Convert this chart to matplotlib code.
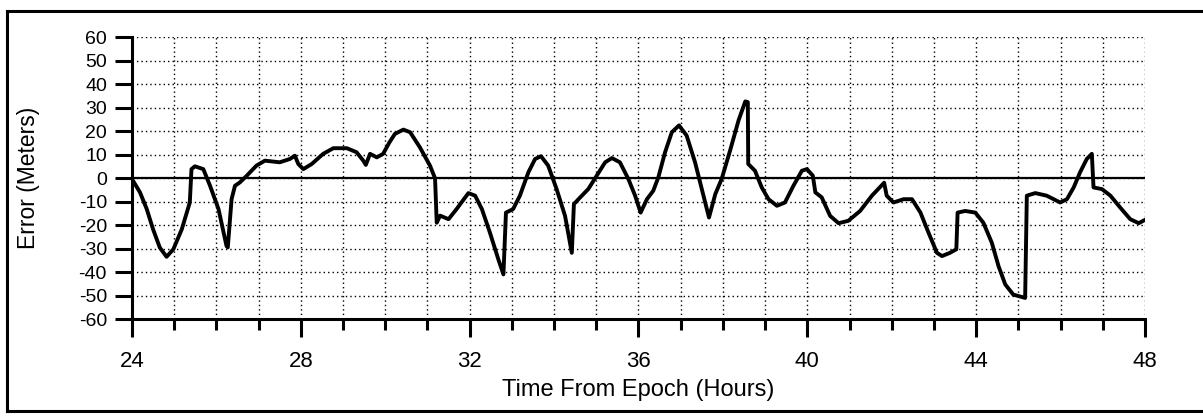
import matplotlib.pyplot as plt
from matplotlib.lines import Line2D
from matplotlib.ticker import MultipleLocator

plt.rcParams['font.family'] = ['Liberation Sans', 'DejaVu Sans']

# error trace (hours from epoch, metres)
hours = [24.0, 24.19, 24.35, 24.5, 24.66, 24.82, 24.98, 25.18, 25.37, 25.41, 25.49, 25.69,
         25.85, 26.05, 26.24, 26.27, 26.36, 26.44, 26.56, 26.72, 26.95, 27.15, 27.5, 27.74,
         27.86, 27.94, 28.06, 28.26, 28.53, 28.77, 29.09, 29.32, 29.48, 29.54, 29.64, 29.8,
         29.95, 30.1, 30.23, 30.43, 30.59, 30.82, 31.06, 31.18, 31.22, 31.3, 31.5, 31.69,
         31.97, 32.13, 32.29, 32.48, 32.68, 32.8, 32.86, 33.03, 33.19, 33.39, 33.55, 33.69,
         33.86, 34.06, 34.26, 34.42, 34.47, 34.62, 34.81, 35.01, 35.21, 35.37, 35.56, 35.76,
         35.92, 36.05, 36.2, 36.35, 36.47, 36.63, 36.79, 36.96, 37.14, 37.34, 37.5, 37.67,
         37.82, 37.97, 38.17, 38.37, 38.53, 38.59, 38.6, 38.76, 38.92, 39.08, 39.28, 39.47,
         39.67, 39.87, 39.99, 40.13, 40.19, 40.34, 40.54, 40.74, 40.97, 41.25, 41.53, 41.82,
         41.88, 42.04, 42.28, 42.48, 42.68, 42.87, 43.07, 43.19, 43.38, 43.53, 43.56, 43.74,
         43.98, 44.17, 44.37, 44.53, 44.69, 44.88, 45.16, 45.2, 45.4, 45.67, 45.99, 46.15,
         46.31, 46.46, 46.62, 46.74, 46.78, 46.98, 47.18, 47.41, 47.65, 47.85, 48.0]
error_m = [-0.4, -6.1, -13.2, -21.8, -29.6, -33.5, -30.3, -21.8, -10.4, 3.8, 5, 3.8,
           -3.3, -13.2, -28.9, -29.5, -9, -3.3, -1.8, 1, 5.3, 7.4, 6.7, 8.1,
           9.5, 6, 3.8, 6, 10.3, 12.7, 12.7, 11, 7.4, 5.6, 10.3, 8.8,
           10.3, 15.2, 18.8, 20.6, 19.5, 13.1, 5.3, -0.1, -19, -16, -17.5, -13.2,
           -6.4, -7.5, -13.2, -23.2, -34.6, -41, -14.7, -13.2, -7.5, 2.4, 8.1, 9.3,
           5.3, -4.7, -16.1, -31.8, -11.1, -8.2, -4.7, 1, 6.7, 8.5, 6.7, -0.4,
           -7.5, -14.7, -9, -5.4, 0.3, 11, 19.5, 22.4, 18.1, 6.7, -4.7, -16.8,
           -6.8, -0.4, 11.7, 24.5, 32.6, 32.3, 6, 3.1, -4, -9, -11.8, -10.4,
           -3.3, 3.1, 3.8, 1, -6.1, -8.2, -16.1, -19.2, -18.2, -14, -7.5, -2,
           -7.5, -10.4, -9, -9, -14.7, -23.2, -31.8, -33.2, -31.8, -30.3, -14.7, -14,
           -14.7, -19, -27.5, -37.5, -45.3, -49.6, -51, -7.5, -6.4, -7.5, -10.4, -9,
           -4, 2.4, 8.1, 10.3, -4, -4.7, -7.5, -12.5, -17.5, -19.2, -17.8]

y_ticks = list(range(-60, 61, 10))
x_ticks = [24, 28, 32, 36, 40, 44, 48]

fig = plt.figure(figsize=(12.03, 4.16), dpi=100)
ax = fig.add_axes([0.1097, 0.233, 0.8421, 0.678])

ax.plot(hours, error_m, color='black', linewidth=2.8, solid_joinstyle='round')
ax.axhline(0, color='black', linewidth=1.6)

ax.set_xlim(24, 48)
ax.set_ylim(-60, 60)
ax.set_xticks(x_ticks)
ax.set_xticklabels([str(t) for t in x_ticks])
ax.xaxis.set_minor_locator(MultipleLocator(1))
ax.set_yticks(y_ticks)
ax.set_yticklabels([str(t) for t in y_ticks])

ax.grid(True, which='both', color='black', linestyle=(0, (1, 2.2)), linewidth=1.0)
ax.tick_params(axis='x', which='major', length=13, width=2.2, direction='out', pad=10, labelsize=16)
ax.tick_params(axis='x', which='minor', length=8, width=2.2, direction='out')
ax.tick_params(axis='y', which='major', length=12, width=2.2, direction='out', pad=6, labelsize=14)

for s in ['top', 'right']:
    ax.spines[s].set_visible(False)
for s in ['left', 'bottom']:
    ax.spines[s].set_linewidth(2.2)

ax.set_xlabel('Time From Epoch (Hours)', fontsize=17, labelpad=5)
ax.set_ylabel('Error (Meters)', fontsize=16.5, labelpad=28)

# page frame around the figure (no right edge)
W, H = 1203, 416
fig.add_artist(Line2D([7 / W, 1.0], [1 - 11 / H, 1 - 11 / H], color='black', linewidth=2.2))
fig.add_artist(Line2D([7 / W, 1.0], [1 - 411 / H, 1 - 411 / H], color='black', linewidth=2.2))
fig.add_artist(Line2D([7 / W, 7 / W], [1 - 11 / H, 1 - 411 / H], color='black', linewidth=2.2))

fig.savefig('out.png', dpi=100)
